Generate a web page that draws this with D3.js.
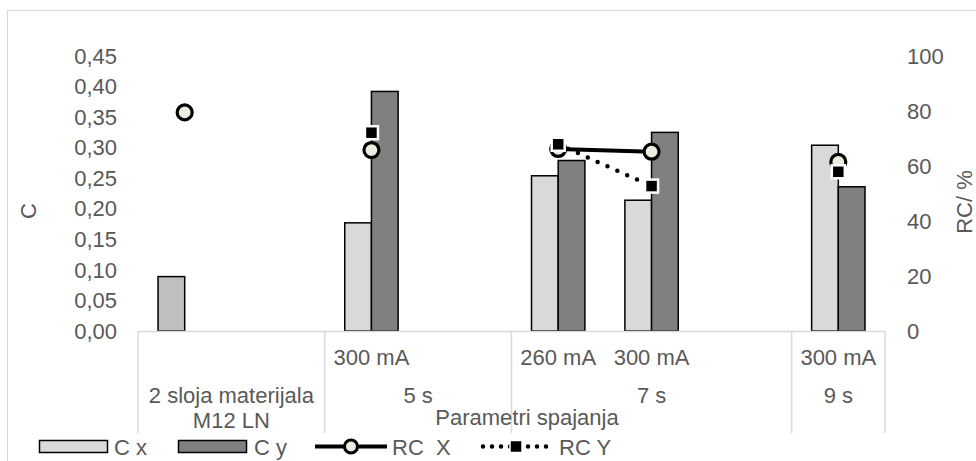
<!DOCTYPE html>
<html lang="hr">
<head>
<meta charset="UTF-8">
<title>C i RC</title>
<script src="https://cdn.jsdelivr.net/npm/d3@7"></script>
<style>
  * { margin: 0; padding: 0; }
  body { background: #fff; }
  svg { display: block; font-family: "Liberation Sans", Arial, sans-serif; }
  text { fill: #595959; font-size: 22px; }
</style>
</head>
<body>
<svg></svg>
<script>
    // podaci
    const leafLabels = ['', '', '300 mA', '', '260 mA', '300 mA', '', '300 mA']
    const groupLabels = [['2 sloja materijala', 'M12 LN'], ['5 s'], ['7 s'], ['9 s']]
    const groupSpans = [2, 2, 3, 1]
    const cX = [0.089, null, 0.177, null, 0.254, 0.214, null, 0.304]
    const cY = [null, null, 0.392, null, 0.279, 0.325, null, 0.236]
    const rcX = [79.5, null, 65.8, null, 66.2, 65.2, null, 61.5]
    const rcY = [null, null, 72.1, null, 67.9, 52.7, null, 57.9]
    const leftTicks = [0, 0.05, 0.10, 0.15, 0.20, 0.25, 0.30, 0.35, 0.40, 0.45]
    const rightTicks = [0, 20, 40, 60, 80, 100]

    const W = 976, H = 461
    const svg = d3.select('svg').attr('width', W).attr('height', H)

    // okvir grafikona
    svg.append('rect').attr('x', 7.5).attr('y', 10.5).attr('width', 1000).attr('height', 500)
        .attr('fill', '#fff').attr('stroke', '#d9d9d9').attr('stroke-width', 1)

    const pTop = 56, pBottom = 331, pLeft = 138, pRight = 885
    const yL = d3.scaleLinear().domain([0, 0.45]).range([pBottom, pTop])
    const yR = d3.scaleLinear().domain([0, 100]).range([pBottom, pTop])
    const x = d3.scaleBand().domain(d3.range(leafLabels.length)).range([pLeft, pRight])
    const xs = d3.scaleBand().domain(['cx', 'cy']).range([0, x.bandwidth()]).paddingInner(0).paddingOuter(0.75)
    const cxp = i => x(i) + x.bandwidth() / 2

    const comma = d3.formatLocale({ decimal: ',', thousands: '.', grouping: [3], currency: ['', ''] })

    // lijeva os
    svg.append('g').selectAll('text').data(leftTicks).join('text')
        .attr('x', 117).attr('y', d => yL(d)).attr('dy', '0.35em')
        .attr('text-anchor', 'end').text(comma.format('.2f'))

    // desna os
    svg.append('g').selectAll('text').data(rightTicks).join('text')
        .attr('x', 907).attr('y', d => yR(d)).attr('dy', '0.35em')
        .text(d => d)

    // naslovi osi
    svg.append('text').attr('transform', 'translate(36,211) rotate(-90)')
        .attr('text-anchor', 'middle').text('C')
    svg.append('text').attr('transform', 'translate(972,202) rotate(-90)')
        .attr('text-anchor', 'middle').text('RC/ %')

    // stupci
    const bars = []
    cX.forEach((v, i) => { if (v != null) bars.push({ i, s: 'cx', v, fill: i === 0 ? '#bfbfbf' : '#d9d9d9' }) })
    cY.forEach((v, i) => { if (v != null) bars.push({ i, s: 'cy', v, fill: '#808080' }) })
    svg.append('g').selectAll('rect').data(bars).join('rect')
        .attr('x', d => x(d.i) + xs(d.s))
        .attr('y', d => yL(d.v))
        .attr('width', xs.bandwidth())
        .attr('height', d => pBottom - yL(d.v))
        .attr('fill', d => d.fill)
        .attr('stroke', '#000').attr('stroke-width', 1.5)

    // kategorijska os
    const ax = svg.append('g')
    ax.append('line').attr('x1', pLeft).attr('x2', pRight).attr('y1', pBottom + 0.5).attr('y2', pBottom + 0.5)
        .attr('stroke', '#d9d9d9').attr('stroke-width', 1.5)
    let k = 0
    const bounds = [0]
    groupSpans.forEach(s => { k += s; bounds.push(k) })
    const bx = b => b < leafLabels.length ? x(b) : pRight
    bounds.forEach(b => {
        ax.append('line').attr('x1', bx(b)).attr('x2', bx(b)).attr('y1', pBottom).attr('y2', 433)
            .attr('stroke', '#d9d9d9').attr('stroke-width', 1.5)
    })
    ax.selectAll('.leaf').data(leafLabels).join('text').attr('class', 'leaf')
        .attr('x', (d, i) => cxp(i)).attr('y', 364.5).attr('text-anchor', 'middle').text(d => d)
    groupLabels.forEach((lines, g) => {
        const mid = (bx(bounds[g]) + bx(bounds[g + 1])) / 2
        lines.forEach((t, j) => {
            ax.append('text').attr('x', mid).attr('y', 403 + j * 24.5)
                .attr('text-anchor', 'middle').text(t)
        })
    })
    svg.append('text').attr('x', 527).attr('y', 425).attr('text-anchor', 'middle').text('Parametri spajanja')

    // linije RC
    const line = d3.line().defined(d => d != null).x((d, i) => cxp(i)).y(d => yR(d))
    svg.append('path').attr('d', line(rcX)).attr('fill', 'none')
        .attr('stroke', '#000').attr('stroke-width', 4)
    svg.append('path').attr('d', line(rcY)).attr('fill', 'none')
        .attr('stroke', '#000').attr('stroke-width', 4.5)
        .attr('stroke-linecap', 'round').attr('stroke-dasharray', '0,10.8')

    const ptsX = rcX.map((v, i) => ({ v, i })).filter(d => d.v != null)
    const ptsY = rcY.map((v, i) => ({ v, i })).filter(d => d.v != null)

    svg.append('g').selectAll('circle').data(ptsX).join('circle')
        .attr('cx', d => cxp(d.i)).attr('cy', d => yR(d.v)).attr('r', 7.5)
        .attr('fill', '#eeebe0').attr('stroke', '#000').attr('stroke-width', 3.2)

    svg.append('g').selectAll('rect').data(ptsY).join('rect')
        .attr('x', d => cxp(d.i) - 6.5).attr('y', d => yR(d.v) - 6.5)
        .attr('width', 13).attr('height', 13)
        .attr('fill', '#000').attr('stroke', '#fff').attr('stroke-width', 2.5)

    // legenda
    const lg = svg.append('g')
    const ly = 446.5
    lg.append('rect').attr('x', 39.5).attr('y', ly - 6).attr('width', 68).attr('height', 12)
        .attr('fill', '#d9d9d9').attr('stroke', '#000').attr('stroke-width', 1.5)
    lg.append('text').attr('x', 114).attr('y', ly + 8).text('C x')
    lg.append('rect').attr('x', 178.5).attr('y', ly - 6).attr('width', 68).attr('height', 12)
        .attr('fill', '#808080').attr('stroke', '#000').attr('stroke-width', 1.5)
    lg.append('text').attr('x', 254).attr('y', ly + 8).text('C y')
    lg.append('line').attr('x1', 315).attr('x2', 387).attr('y1', ly).attr('y2', ly)
        .attr('stroke', '#000').attr('stroke-width', 4)
    lg.append('circle').attr('cx', 351).attr('cy', ly).attr('r', 6.5)
        .attr('fill', '#eeebe0').attr('stroke', '#000').attr('stroke-width', 3)
    lg.append('text').attr('x', 392).attr('y', ly + 8).style('white-space', 'pre').text('RC  X')
    lg.append('line').attr('x1', 483).attr('x2', 549).attr('y1', ly).attr('y2', ly)
        .attr('stroke', '#000').attr('stroke-width', 4.5)
        .attr('stroke-linecap', 'round').attr('stroke-dasharray', '0,9')
    lg.append('rect').attr('x', 510).attr('y', ly - 6).attr('width', 12).attr('height', 12)
        .attr('fill', '#000').attr('stroke', '#fff').attr('stroke-width', 1.5)
    lg.append('text').attr('x', 559).attr('y', ly + 8).text('RC Y')
</script>
</body>
</html>
